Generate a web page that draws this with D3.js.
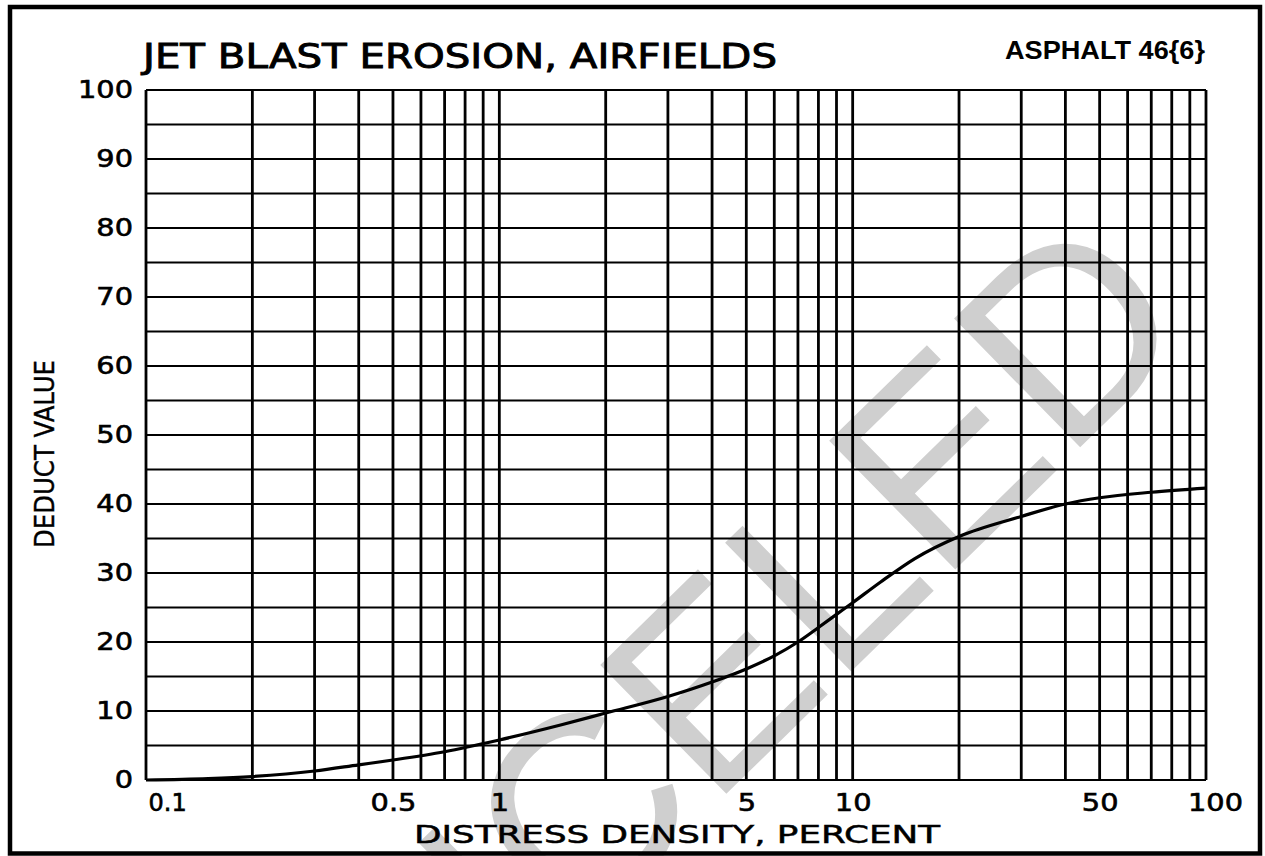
<!DOCTYPE html>
<html>
<head>
<meta charset="utf-8">
<script src="https://cdn.jsdelivr.net/npm/d3@7"></script>
<style>
  html, body { margin: 0; padding: 0; background: #fff; }
  svg { display: block; }
</style>
</head>
<body>
<script>
// ---- data ----
const densityPct = [0.1, 0.15, 0.2, 0.3, 0.4, 0.5, 0.7, 1, 1.5, 2, 3, 4, 5, 6, 7, 8, 9, 10, 12, 15, 20, 30, 40, 50, 70, 100];
const deductValue = [0, 0.2, 0.5, 1.3, 2.2, 2.9, 4.1, 5.8, 8.0, 9.7, 12.1, 14.2, 16.1, 18, 20, 22.1, 24, 25.7, 28.7, 32.1, 35.3, 38.2, 40, 40.9, 41.7, 42.3];
const xTickValues = [0.1, 0.5, 1, 5, 10, 50, 100];
const xTickLabels = ["0.1", "0.5", "1", "5", "10", "50", "100"];
const yTickValues = [0, 10, 20, 30, 40, 50, 60, 70, 80, 90, 100];
const yTickLabels = ["0", "10", "20", "30", "40", "50", "60", "70", "80", "90", "100"];
const xGridValues = [0.1,0.2,0.3,0.4,0.5,0.6,0.7,0.8,0.9,1,2,3,4,5,6,7,8,9,10,20,30,40,50,60,70,80,90,100];
const yGridValues = d3.range(0, 101, 5);
const titleText = "JET BLAST EROSION, AIRFIELDS";
const tagText = "ASPHALT 46{6}";
const xTitle = "DISTRESS DENSITY, PERCENT";
const yTitle = "DEDUCT VALUE";
const watermarkText = "CANCELED";

// ---- layout ----
const W = 1265, H = 856;
const svg = d3.select("body").append("svg").attr("width", W).attr("height", H);
svg.append("rect").attr("width", W).attr("height", H).attr("fill", "#fff");

const x = d3.scaleLog().domain([0.1, 100]).range([146, 1206]);
const y = d3.scaleLinear().domain([0, 100]).range([780, 90]);

// watermark (under grid)
svg.append("text")
  .attr("transform", "translate(1200,330) rotate(-44.4)")
  .attr("text-anchor", "end")
  .attr("font-family", "Liberation Sans, Arial, sans-serif")
  .attr("font-size", 262)
  .attr("fill", "#cfcfcf")
  .text(watermarkText);

// grid
const g = svg.append("g");
g.selectAll("line.h").data(yGridValues).join("line")
  .attr("x1", x(0.1)).attr("x2", x(100))
  .attr("y1", d => y(d)).attr("y2", d => y(d))
  .attr("stroke", "#000").attr("stroke-width", 2.2);
g.selectAll("line.v").data(xGridValues).join("line")
  .attr("x1", d => x(d)).attr("x2", d => x(d))
  .attr("y1", y(0)).attr("y2", y(100))
  .attr("stroke", "#000").attr("stroke-width", 2.8);

// curve
const line = d3.line().x(d => x(d[0])).y(d => y(d[1])).curve(d3.curveMonotoneX);
svg.append("path")
  .datum(densityPct.map((d, i) => [d, deductValue[i]]))
  .attr("d", line)
  .attr("fill", "none").attr("stroke", "#000").attr("stroke-width", 3.2);

function widen(sel, f) {
  sel.each(function () {
    const len = this.getComputedTextLength();
    d3.select(this).attr("textLength", len * f).attr("lengthAdjust", "spacingAndGlyphs");
  });
}

// axes (labels only)
const xAxis = d3.axisBottom(x).tickValues(xTickValues).tickSize(0).tickPadding(0)
  .tickFormat((d, i) => xTickLabels[i]);
const gx = svg.append("g").attr("transform", `translate(0,${y(0)})`).call(xAxis);
gx.select(".domain").remove();
gx.selectAll("text")
  .attr("font-family", "DejaVu Sans").attr("font-size", 24)
  .attr("fill", "#000").attr("stroke", "#000").attr("stroke-width", 0.6)
  .attr("dy", "1.3em")
  .attr("text-anchor", (d, i) => i === 0 ? "start" : "middle")
  .attr("dx", (d, i) => i === 0 ? 2 : (i === xTickValues.length - 1 ? 9 : 0));
widen(gx.selectAll("text").filter((d, i) => i > 0), 1.2);

const yAxis = d3.axisLeft(y).tickValues(yTickValues).tickSize(0).tickPadding(13)
  .tickFormat((d, i) => yTickLabels[i]);
const gy = svg.append("g").attr("transform", `translate(${x(0.1)},0)`).call(yAxis);
gy.select(".domain").remove();
gy.selectAll("text")
  .attr("font-family", "DejaVu Sans").attr("font-size", 24)
  .attr("fill", "#000").attr("stroke", "#000").attr("stroke-width", 0.6);
widen(gy.selectAll("text"), 1.2);

// titles
svg.append("text").attr("x", 143).attr("y", 68)
  .attr("font-family", "DejaVu Sans").attr("font-size", 33)
  .attr("textLength", 634).attr("lengthAdjust", "spacingAndGlyphs")
  .attr("fill", "#000").attr("stroke", "#000").attr("stroke-width", 0.9)
  .text(titleText);

svg.append("text").attr("x", 1005).attr("y", 59)
  .attr("font-family", "Liberation Sans Narrow, Liberation Sans").attr("font-weight", "bold").attr("font-size", 26)
  .attr("textLength", 200).attr("lengthAdjust", "spacingAndGlyphs")
  .attr("fill", "#000")
  .text(tagText);

svg.append("text").attr("x", 414).attr("y", 843)
  .attr("font-family", "DejaVu Sans").attr("font-size", 25)
  .attr("textLength", 526).attr("lengthAdjust", "spacingAndGlyphs")
  .attr("fill", "#000").attr("stroke", "#000").attr("stroke-width", 0.5)
  .text(xTitle);

svg.append("text")
  .attr("transform", "translate(54,454) rotate(-90)")
  .attr("text-anchor", "middle")
  .attr("font-family", "DejaVu Sans").attr("font-size", 26)
  .attr("textLength", 188).attr("lengthAdjust", "spacingAndGlyphs")
  .attr("fill", "#000").attr("stroke", "#000").attr("stroke-width", 0.4)
  .text(yTitle);

// frame
svg.append("rect").attr("x", 10).attr("y", 7).attr("width", 1250).attr("height", 846.5)
  .attr("fill", "none").attr("stroke", "#000").attr("stroke-width", 4.5);
</script>
</body>
</html>
